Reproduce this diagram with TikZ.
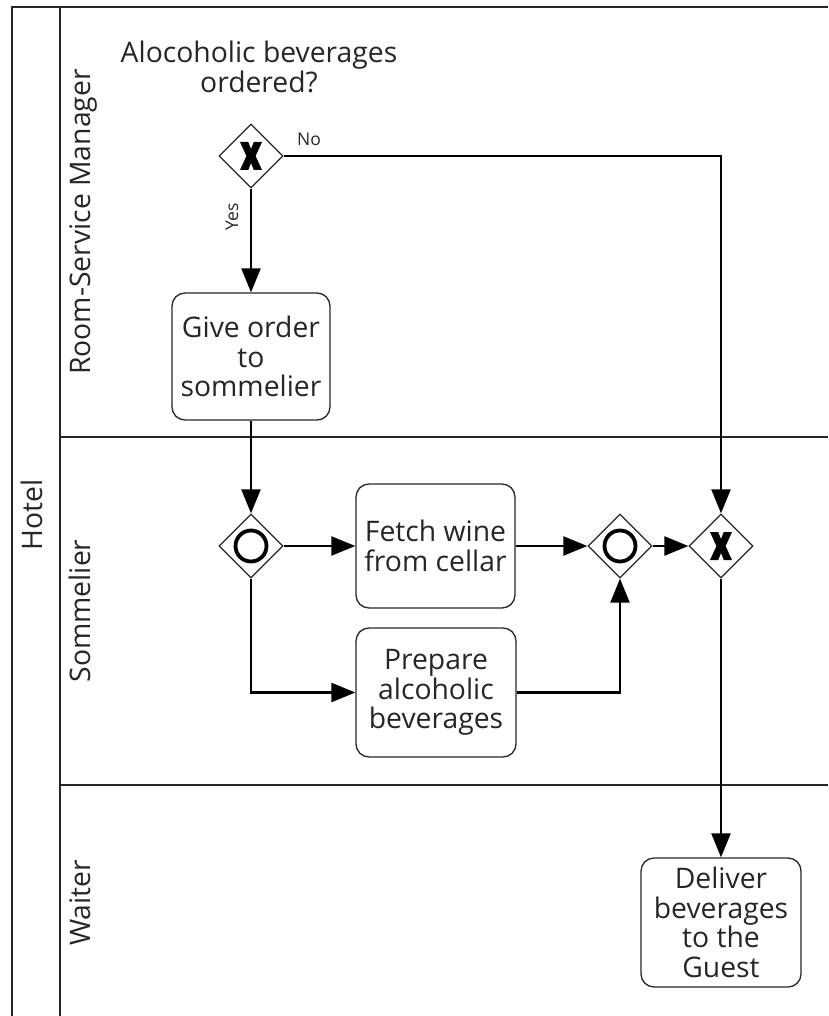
\documentclass[tikz,border=0pt]{standalone}
\usepackage{fontspec}
\setmainfont{Open Sans}
\usetikzlibrary{arrows.meta,shapes.geometric}

\tikzset{
  lanes/.style={line width=1.3pt, draw=black!85},
  task/.style={draw=black!85, line width=1.3pt, rounded corners=13pt, align=center,
    inner sep=0pt, font=\fontsize{28.3}{29.5}\selectfont, text=black!85},
  gateway/.style={shape=diamond, draw=black!85, line width=1.3pt, fill=white,
    minimum width=64pt, minimum height=64pt, inner sep=0pt, aspect=1},
  flow/.style={line width=2.3pt, draw=black, -{Triangle[length=24pt,width=19pt]}},
  flowlabel/.style={font=\fontsize{17.5}{19}\selectfont, text=black!85, inner sep=0pt},
  lanelabel/.style={rotate=90, anchor=base, inner sep=0pt,
    font=\fontsize{28.3}{29.5}\selectfont, text=black!85},
  % exclusive marker: a heavy X with flat ends
  xmark/.pic={\fill[black] (-11,-14) -- (-2.8,-14) -- (0,-7) -- (2.8,-14) -- (11,-14)
      -- (4.6,0) -- (11,14) -- (2.8,14) -- (0,7) -- (-2.8,14) -- (-11,14) -- (-4.6,0) -- cycle;},
  omark/.pic={\draw[line width=3.8pt] (0,0) circle[radius=15.5pt];}
}

\begin{document}
\begin{tikzpicture}[x=1pt, y=-1pt]
  \useasboundingbox (0,0) rectangle (828,1016);

  % pool and lanes
  \draw[lanes] (12,1016) -- (12,7) -- (828,7);
  \draw[lanes] (60,7) -- (60,1016);
  \draw[lanes] (60,437) -- (828,437);
  \draw[lanes] (60,785) -- (828,785);

  \node[lanelabel] (pool) at (42,515) {Hotel};
  \node[lanelabel] (laneRSM) at (90,222) {Room-Service Manager};
  \node[lanelabel] (laneSom) at (90,611) {Sommelier};
  \node[lanelabel] (laneWai) at (90,903) {Waiter};

  % gateways
  \node[gateway] (xsplit) at (251,156) {};
  \node[gateway] (psplit) at (251,546) {};
  \node[gateway] (pjoin) at (620,546) {};
  \node[gateway] (xjoin) at (721,546) {};
  \pic at (xsplit) {xmark};
  \pic at (xjoin) {xmark};
  \pic at (psplit) {omark};
  \pic at (pjoin) {omark};

  \node[align=center, inner sep=0pt, font=\fontsize{28.3}{28}\selectfont, text=black!85]
    (question) at (259,67) {Alocoholic beverages\\ordered?};

  % tasks
  \node[task, minimum width=158pt, minimum height=127pt] (order) at (251,356.5) {Give order\\to\\sommelier};
  \node[task, minimum width=159pt, minimum height=124pt] (fetch) at (435.5,546) {Fetch wine\\from cellar};
  \node[task, minimum width=160pt, minimum height=129pt] (prepare) at (436,692.5) {Prepare\\alcoholic\\beverages};
  \node[task, minimum width=160pt, minimum height=129pt] (deliver) at (721,922.5) {Deliver\\beverages\\to the\\Guest};

  % sequence flows
  \draw[flow] (xsplit.east) -| (xjoin.north);
  \draw[flow] (xsplit.south) -- (order.north);
  \draw[flow] (order.south) -- (psplit.north);
  \draw[flow] (psplit.east) -- (fetch.west);
  \draw[flow] (psplit.south) |- (prepare.west);
  \draw[flow] (fetch.east) -- (pjoin.west);
  \draw[flow] (prepare.east) -| (pjoin.south);
  \draw[flow] (pjoin.east) -- (xjoin.west);
  \draw[flow] (xjoin.south) -- (deliver.north);

  \node[flowlabel] (lblNo) at (309,139) {No};
  \node[flowlabel, rotate=90, anchor=base] (lblYes) at (238,217) {Yes};
\end{tikzpicture}
\end{document}
